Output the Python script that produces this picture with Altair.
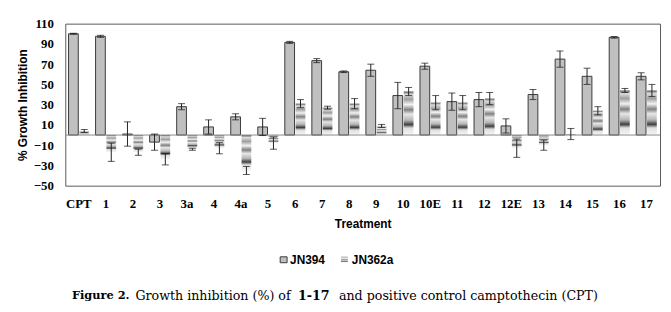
import altair as alt
import pandas as pd

cats = ["CPT", "1", "2", "3", "3a", "4", "4a", "5", "6", "7", "8", "9", "10",
        "10E", "11", "12", "12E", "13", "14", "15", "16", "17"]
jn394 = [100, 97.5, 1, -7, 28, 8, 18, 8, 91.5, 73.5, 62.5, 64, 39, 68, 33,
         35, 9, 40, 75, 58, 96.5, 58]
jn394_err = [0.5, 1, 12, 8, 3, 7, 3, 8.5, 1, 2, 0.8, 6, 13, 3, 8.5, 7, 7, 5,
             8, 8, 0.8, 3.5]
jn362a = [4, -17, -17, -24, -14, -13, -35, -8, 31, 27, 31, 9, 43, 32, 32, 36,
          -13, -10, 1, 24, 44, 44]
jn362a_err = [1.5, 9, 3, 5.5, 1, 5.5, 4, 6, 4, 1.5, 5, 1.5, 4, 7, 7, 6, 9, 5,
              5.5, 4, 2, 6]
series = ["JN394", "JN362a"]
y_ticks = [-50, -30, -10, 10, 30, 50, 70, 90, 110]

rows = []
for s, vals, errs in [("JN394", jn394, jn394_err), ("JN362a", jn362a, jn362a_err)]:
    for c, v, e in zip(cats, vals, errs):
        rows.append({"treatment": c, "series": s, "value": v,
                     "lo": v - e, "hi": v + e})
df = pd.DataFrame(rows)

W, H = 602, 164

x_axis = alt.Axis(title="Treatment", labelAngle=0, domain=False,
                  ticks=False, labelPadding=12, titlePadding=8,
                  labelOverlap=False,
                  labelFont="Liberation Serif", labelFontWeight="bold",
                  labelFontSize=13, labelColor="#000",
                  titleFont="Liberation Sans", titleFontWeight="bold",
                  titleFontSize=12, titleColor="#000")
y_axis = alt.Axis(title="% Growth Inhibition", values=y_ticks,
                  grid=False, domain=False, ticks=False,
                  labelOverlap=False,
                  labelPadding=12, titlePadding=4,
                  labelFont="Liberation Serif", labelFontWeight="bold",
                  labelFontSize=13, labelColor="#000",
                  titleFont="Liberation Sans", titleFontWeight="bold",
                  titleFontSize=12, titleColor="#000")
x_scale = alt.Scale(paddingInner=0.24, paddingOuter=0.12)
y_scale = alt.Scale(domain=[-50, 110], nice=False, zero=False)

x_enc = alt.X("treatment:N", sort=cats, scale=x_scale, axis=x_axis)
xo_enc = alt.XOffset("series:N", scale=alt.Scale(domain=series, paddingInner=0.1))


def yq(field):
    return alt.Y(field, type="quantitative", scale=y_scale, axis=y_axis,
                 title="% Growth Inhibition")


stripes = alt.Gradient(
    gradient="linear", x1=0, y1=0, x2=0, y2=1,
    stops=[
        alt.GradientStop(offset=0.0, color="#555555"),
        alt.GradientStop(offset=0.07, color="#dcdcdc"),
        alt.GradientStop(offset=0.18, color="#a0a0a0"),
        alt.GradientStop(offset=0.3, color="#f2f2f2"),
        alt.GradientStop(offset=0.42, color="#808080"),
        alt.GradientStop(offset=0.52, color="#e6e6e6"),
        alt.GradientStop(offset=0.66, color="#b5b5b5"),
        alt.GradientStop(offset=0.76, color="#404040"),
        alt.GradientStop(offset=0.84, color="#e0e0e0"),
        alt.GradientStop(offset=1.0, color="#f6f6f6"),
    ])

base = alt.Chart(df)

bars394 = base.transform_filter(alt.datum.series == "JN394").mark_bar(
    fill="#c0c0c0", stroke="#3a3a3a", strokeWidth=1).encode(
    x=x_enc, xOffset=xo_enc, y=yq("value"))
bars362 = base.transform_filter(alt.datum.series == "JN362a").mark_bar(
    fill=stripes).encode(x=x_enc, xOffset=xo_enc, y=yq("value"))

err = base.mark_rule(color="#222", strokeWidth=1).encode(
    x=x_enc, xOffset=xo_enc, y=yq("lo"), y2="hi:Q")
cap_lo = base.mark_tick(color="#111", thickness=1, size=7).encode(
    x=x_enc, xOffset=xo_enc, y=yq("lo"))
cap_hi = base.mark_tick(color="#111", thickness=1, size=7).encode(
    x=x_enc, xOffset=xo_enc, y=yq("hi"))

zero = alt.Chart(pd.DataFrame({"z": [0]})).mark_rule(
    color="#8a8a8a", strokeWidth=1).encode(y=yq("z"))

# legend (drawn manually, below the plot)
one = pd.DataFrame({"a": [0]})
leg_sq = alt.Chart(one).mark_rect(fill="#c0c0c0", stroke="#3a3a3a", strokeWidth=1).encode(
    x=alt.value(217.5), x2=alt.value(224.5), y=alt.value(236), y2=alt.value(242))
leg_sq2 = alt.Chart(one).mark_rect(fill=stripes).encode(
    x=alt.value(279), x2=alt.value(286), y=alt.value(236), y2=alt.value(242))
leg_t1 = alt.Chart(one).mark_text(
    text=series[0], align="left", baseline="middle", font="Liberation Sans",
    fontWeight="bold", fontSize=12, color="#000").encode(
    x=alt.value(227.5), y=alt.value(239.5))
leg_t2 = alt.Chart(one).mark_text(
    text=series[1], align="left", baseline="middle", font="Liberation Sans",
    fontWeight="bold", fontSize=12, color="#000").encode(
    x=alt.value(290), y=alt.value(239.5))

# caption
cap_parts = [("Figure 2.", "bold", 11.5, "right", 65),
             ("Growth inhibition (%) of", "normal", 12.8, "left", 71),
             ("1-17", "bold", 12.8, "center", 251.5),
             ("and positive control camptothecin (CPT)", "normal", 12.8, "left", 277)]
cap_layers = []
for txt, wt, fs, al, xp in cap_parts:
    cap_layers.append(alt.Chart(one).mark_text(
        text=txt, align=al, baseline="middle", font="DejaVu Serif",
        fontWeight=wt, fontSize=fs, color="#000").encode(
        x=alt.value(xp), y=alt.value(276)))

chart = alt.layer(bars394, bars362, zero, err, cap_lo, cap_hi,
                  leg_sq, leg_sq2, leg_t1, leg_t2, *cap_layers).properties(
    width=W, height=H,
    autosize=alt.AutoSizeParams(type="none"),
    padding={"left": 58, "top": 14, "right": 3, "bottom": 124},
    background="white",
).configure_view(stroke="#595959", strokeWidth=1
).configure_axis(labelOverlap=False)

chart.save("out.html", embed_options={"renderer": "svg", "actions": False})
